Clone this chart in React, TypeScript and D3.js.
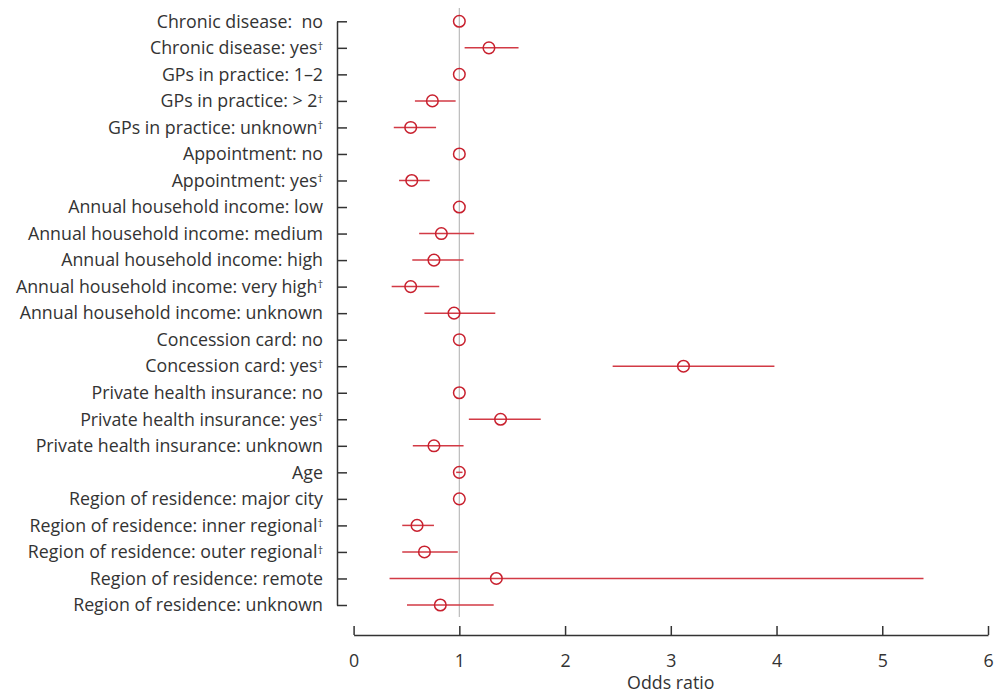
import React, { useRef, useEffect } from 'react';
import * as d3 from 'd3';

// rows top to bottom
const labels = [
  'Chronic disease:  no',
  'Chronic disease: yes',
  'GPs in practice: 1–2',
  'GPs in practice: > 2',
  'GPs in practice: unknown',
  'Appointment: no',
  'Appointment: yes',
  'Annual household income: low',
  'Annual household income: medium',
  'Annual household income: high',
  'Annual household income: very high',
  'Annual household income: unknown',
  'Concession card: no',
  'Concession card: yes',
  'Private health insurance: no',
  'Private health insurance: yes',
  'Private health insurance: unknown',
  'Age',
  'Region of residence: major city',
  'Region of residence: inner regional',
  'Region of residence: outer regional',
  'Region of residence: remote',
  'Region of residence: unknown',
];
// dagger marker (significant)
const dagger = [false, true, false, true, true, false, true, false, false, false, true, false,
  false, true, false, true, false, false, false, true, true, false, false];
const oddsRatio = [1, 1.28, 1, 0.745, 0.54, 1, 0.55, 1, 0.83, 0.76, 0.54, 0.95,
  1, 3.12, 1, 1.39, 0.76, 1, 1, 0.6, 0.67, 1.35, 0.82];
const lower = [null, 1.05, null, 0.58, 0.38, null, 0.43, null, 0.62, 0.555, 0.36, 0.67,
  null, 2.45, null, 1.09, 0.56, 0.97, null, 0.46, 0.46, 0.34, 0.505];
const upper = [null, 1.56, null, 0.965, 0.78, null, 0.72, null, 1.14, 1.04, 0.81, 1.34,
  null, 3.98, null, 1.77, 1.04, 1.03, null, 0.76, 0.985, 5.39, 1.325];
const xTicks = [0, 1, 2, 3, 4, 5, 6];

const RED = '#c8202e';
const LINE_RED = '#d23a45';
const TEXT = '#333333';
const FONT = '"Open Sans", Lato, sans-serif';
const FS = '17.8px';

export default function App() {
  const ref = useRef<SVGSVGElement>(null);

  useEffect(() => {
    const svg = d3.select(ref.current);
    svg.selectAll('*').remove();

    const x = d3.scaleLinear().domain([0, 6]).range([353.6, 988]);
    const y = d3.scalePoint<number>()
      .domain(d3.range(labels.length))
      .range([21.3, 605]);

    // reference line at 1
    svg.append('line')
      .attr('x1', x(1)).attr('x2', x(1))
      .attr('y1', 8).attr('y2', 617)
      .attr('stroke', '#bbbbbb')
      .attr('stroke-width', 1.2);

    // y axis
    const yAxis = svg.append('g')
      .attr('transform', 'translate(337,0)')
      .call(d3.axisRight(y).tickSize(10).tickSizeOuter(0).tickFormat(() => ''));
    yAxis.select('.domain').attr('stroke', '#333').attr('stroke-width', 1.5);
    yAxis.selectAll('.tick line').attr('stroke', '#333').attr('stroke-width', 1.5);

    // row labels
    const lab = svg.append('g').selectAll('text')
      .data(labels)
      .enter()
      .append('text')
      .attr('x', 323)
      .attr('y', (d, i) => y(i)!)
      .attr('dy', '0.35em')
      .attr('text-anchor', 'end')
      .style('white-space', 'pre')
      .style('font-family', FONT)
      .style('font-size', FS)
      .attr('fill', TEXT);
    lab.append('tspan').text(d => d);
    lab.filter((d, i) => dagger[i])
      .append('tspan')
      .attr('dy', '-0.4em')
      .style('font-size', '11px')
      .text('†');

    // x axis
    const xAxis = svg.append('g')
      .attr('transform', 'translate(0,635)')
      .call(d3.axisTop(x).tickValues(xTicks).tickSize(9).tickSizeOuter(0).tickFormat(d3.format('d')));
    xAxis.select('.domain').attr('stroke', '#333').attr('stroke-width', 1.5);
    xAxis.selectAll('.tick text')
      .attr('y', 26)
      .attr('dy', '0.35em')
      .style('font-family', FONT)
      .style('font-size', FS)
      .attr('fill', TEXT);
    xAxis.selectAll('.tick line').attr('stroke', '#333').attr('stroke-width', 1.5);

    svg.append('text')
      .attr('x', x(3))
      .attr('y', 683)
      .attr('dy', '0.35em')
      .attr('text-anchor', 'middle')
      .style('font-family', FONT)
      .style('font-size', FS)
      .attr('fill', TEXT)
      .text('Odds ratio');

    // confidence intervals
    const idx = d3.range(labels.length).filter(i => lower[i] !== null);
    svg.append('g').selectAll('line')
      .data(idx)
      .enter()
      .append('line')
      .attr('x1', i => x(lower[i] as number))
      .attr('x2', i => x(upper[i] as number))
      .attr('y1', i => y(i)!)
      .attr('y2', i => y(i)!)
      .attr('stroke', LINE_RED)
      .attr('stroke-width', 1.5);

    // points
    svg.append('g').selectAll('circle')
      .data(oddsRatio)
      .enter()
      .append('circle')
      .attr('cx', d => x(d))
      .attr('cy', (d, i) => y(i)!)
      .attr('r', 5.8)
      .attr('fill', 'none')
      .attr('stroke', RED)
      .attr('stroke-width', 1.5);
  }, []);

  return (
    <div style={{ position: 'absolute', left: 0, top: 0 }}>
      <svg ref={ref} width={995} height={694} style={{ background: '#fff', display: 'block' }}></svg>
    </div>
  );
}
